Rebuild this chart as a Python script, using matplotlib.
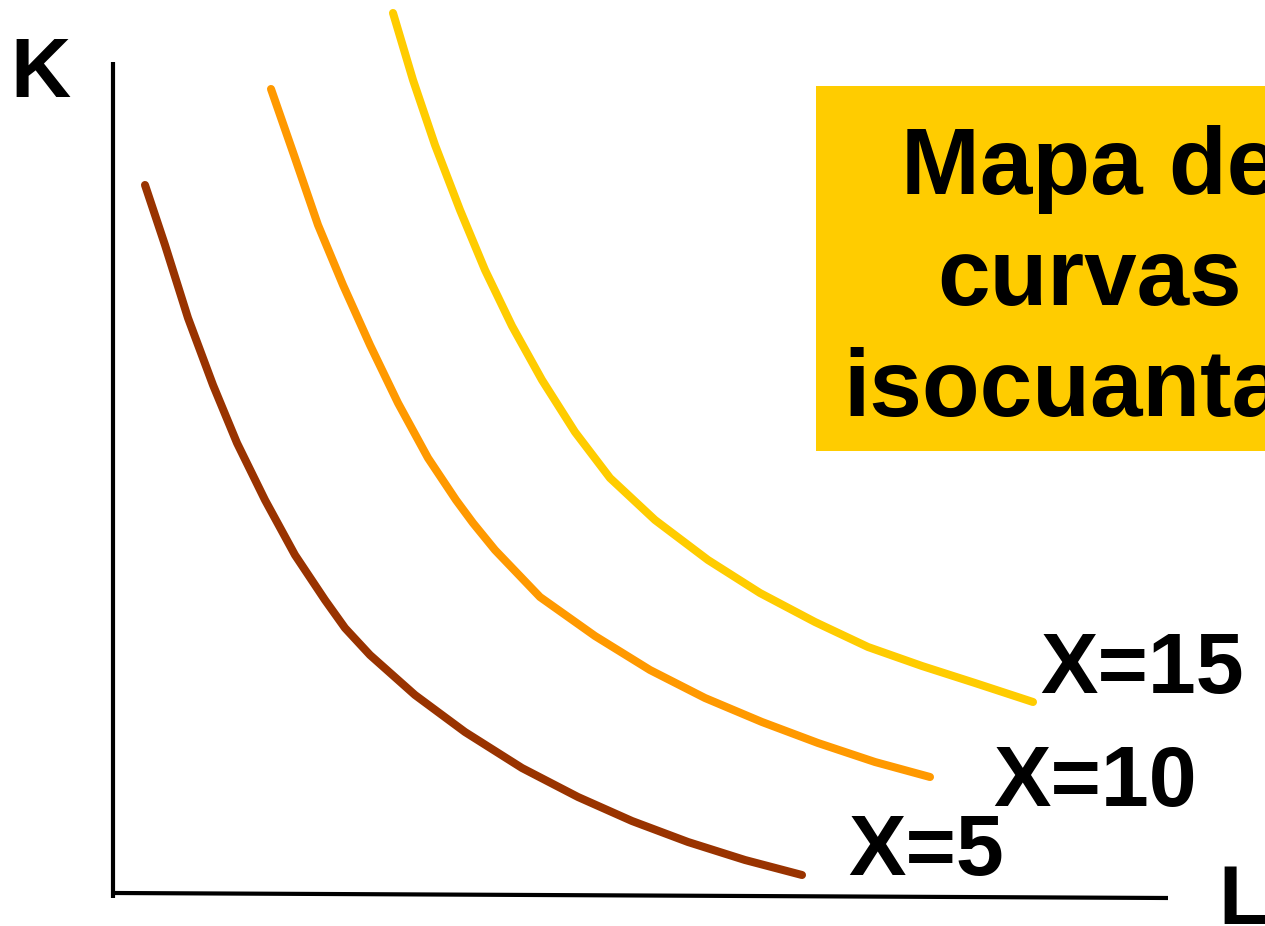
import matplotlib
matplotlib.use('Agg')
import matplotlib.pyplot as plt
from matplotlib.patches import Rectangle

# isoquant curves, L (x) and K (y)
L_x5 = [30, 50, 73, 98, 122, 150, 180, 210, 230, 255, 300, 350, 407, 463, 517, 573, 630, 687]
K_x5 = [710, 650, 577, 510, 452, 395, 340, 295, 267, 240, 200, 163, 127, 98, 74, 53, 35, 20]

L_x10 = [156, 180, 203, 228, 255, 283, 313, 341, 358, 380, 425, 480, 535, 590, 647, 703, 760, 815]
K_x10 = [806, 737, 670, 610, 550, 492, 437, 395, 372, 345, 298, 259, 225, 197, 173, 152, 133, 118]

L_x15 = [278, 298, 320, 345, 370, 397, 427, 460, 495, 540, 593, 645, 700, 753, 807, 860, 918]
K_x15 = [882, 815, 750, 685, 625, 569, 515, 463, 417, 375, 335, 302, 273, 248, 229, 212, 193]

curves = [(L_x5, K_x5, '#993300', 'X=5', (733, 20)),
          (L_x10, K_x10, '#FF9900', 'X=10', (878, 89)),
          (L_x15, K_x15, '#FFCC00', 'X=15', (925, 202))]

title_lines = 'Mapa de\ncurvas\nisocuantas'

fig = plt.figure(figsize=(12.65, 9.26), dpi=100)
ax = fig.add_axes([0, 0, 1, 1])
ax.set_xlim(-115, 1150)
ax.set_ylim(-31, 895)
ax.set_axis_off()

font = 'Liberation Sans'

# axes drawn as plain lines
ax.plot([-2, -2], [-3, 833], color='black', lw=3, solid_capstyle='butt')
ax.plot([0, 1053], [2, -3], color='black', lw=3, solid_capstyle='butt')
ax.text(-75, 798, 'K', fontsize=60, fontweight='bold', family=font, va='baseline', ha='center')
ax.text(1103, -29, 'L', fontsize=60, fontweight='bold', family=font, va='baseline', ha='left')

for xs, ys, col, lab, pos in curves:
    ax.plot(xs, ys, color=col, lw=5.8, solid_capstyle='round', solid_joinstyle='round')
    ax.text(pos[0], pos[1], lab, fontsize=62, fontweight='bold', family=font,
            va='baseline', ha='left')

# yellow title box
ax.add_patch(Rectangle((701, 444), 600, 365, facecolor='#FFCC00', edgecolor='none'))
ax.text(975, 479, title_lines, fontsize=68, fontweight='bold', family=font,
        ha='center', va='baseline', multialignment='center', linespacing=1.32)

fig.savefig('out.png', dpi=100)
